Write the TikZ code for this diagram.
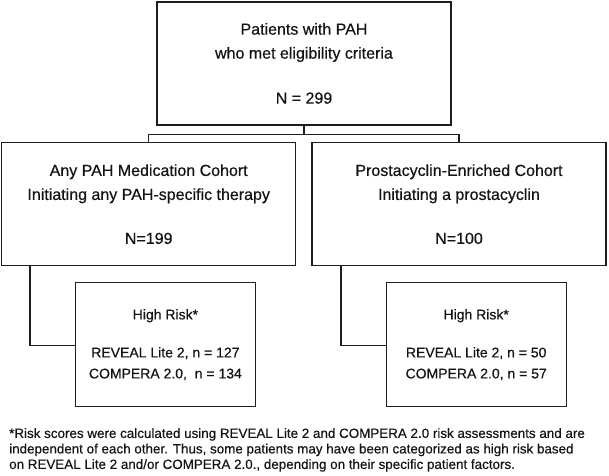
\documentclass[tikz,border=0pt]{standalone}
\usepackage{fontspec}
\setmainfont{Liberation Sans}[FakeBold=0.5]
\usepackage{tikz}
\usetikzlibrary{calc}
\definecolor{BoxLine}{RGB}{30,30,30}
\definecolor{TextDark}{RGB}{20,20,20}
\tikzset{
	cohort/.style={draw=BoxLine, line width=1.3pt, text=TextDark, align=center, inner sep=0pt,
		minimum width=294pt, minimum height=123pt, font=\fontsize{16}{24}\selectfont},
	riskbox/.style={draw=BoxLine, line width=1.3pt, text=TextDark, align=center, inner sep=0pt,
		minimum width=180pt, minimum height=124pt, font=\fontsize{14}{21}\selectfont},
	link/.style={draw=BoxLine, line width=1.3pt},
	footnote/.style={text=TextDark, align=left, inner sep=0pt, font=\fontsize{13.4}{15.5}\selectfont},
}

\begin{document}
\begin{tikzpicture}
		\useasboundingbox (0pt,0pt) rectangle (609pt,-475pt);

		\node[cohort] (all) at (304pt,-63.4pt) {Patients with PAH\\who met eligibility criteria\\[21pt]N = 299};

		\node[cohort] (anypah) at (148.7pt,-204.2pt) {Any PAH Medication Cohort\\Initiating any PAH-specific therapy\\[20pt]N=199};
		\node[cohort] (prosta) at (459pt,-204.2pt) {Prostacyclin-Enriched Cohort\\Initiating a prostacyclin\\[20pt]N=100};

		\node[riskbox] (anyrisk) at (165.4pt,-344.7pt) {High Risk*\\[17pt]REVEAL Lite 2, n = 127\\COMPERA 2.0,\ \ n = 134};
		\node[riskbox] (prostarisk) at (476.2pt,-344.7pt) {High Risk*\\[17pt]REVEAL Lite 2, n = 50\\COMPERA 2.0, n = 57};

		% split below the first box
		\draw[link] (all.south) -- ++(0pt,-9pt) coordinate (split);
		\draw[link] (anypah.north) |- (split) -| (prosta.north);

		\draw[link] ([xshift=29pt]anypah.south west) |- ([yshift=-1pt]anyrisk.west);
		\draw[link] ([xshift=29.7pt]prosta.south west) |- ([yshift=-1pt]prostarisk.west);

		\node[footnote, anchor=north west] (note) at (9pt,-428pt) {*Risk scores were calculated using REVEAL Lite 2 and COMPERA 2.0 risk assessments and are\\independent of each other. Thus, some patients may have been categorized as high risk based\\on REVEAL Lite 2 and/or COMPERA 2.0., depending on their specific patient factors.};
	\end{tikzpicture}
\end{document}
